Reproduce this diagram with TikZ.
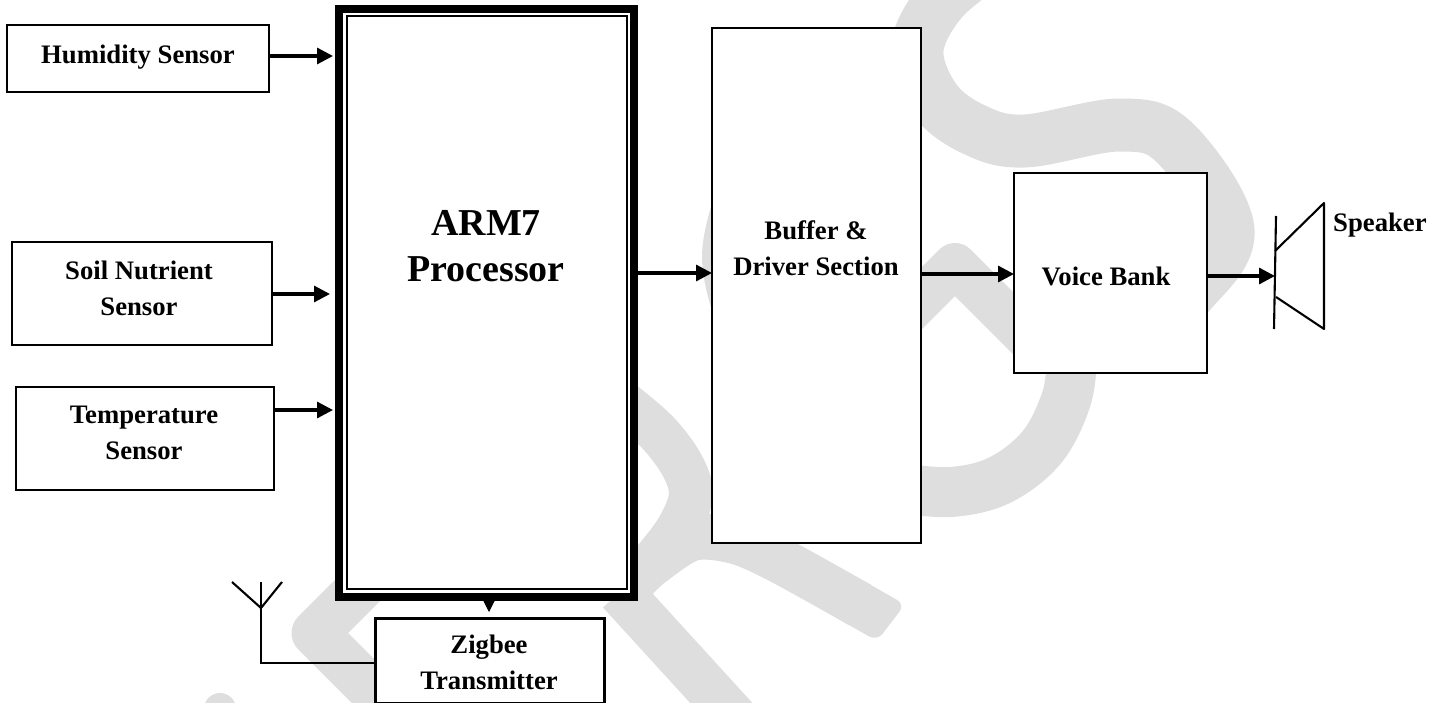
\documentclass[tikz,border=0pt]{standalone}
\usepackage{fontspec}
\setmainfont{Liberation Serif}
\usetikzlibrary{arrows.meta}
\definecolor{wm}{HTML}{DEDEDE}
\tikzset{
  box/.style={draw=black,fill=white,line width=2.7pt,inner sep=0pt,outer sep=0pt},
  txt/.style={font=\fontsize{26.7}{36}\selectfont\bfseries,align=center,inner sep=0pt},
  bigtxt/.style={font=\fontsize{38}{46}\selectfont\bfseries,align=center,inner sep=0pt},
  arr/.style={line width=3.2pt,-{Triangle[length=16pt,width=16pt]}},
  thin line/.style={line width=2.1pt,line join=miter},
  wmark/.style={draw=wm,line join=round,line cap=butt},
}
\begin{document}
\begin{tikzpicture}[x=1pt,y=-1pt]
\useasboundingbox (0,0) rectangle (1442,703);
% watermark
\begin{scope}
\clip (0,0) rectangle (1442,703);
\draw[wmark,line width=53pt] plot[smooth,tension=0.6] coordinates {(985,-35) (941,1) (917,50) (935,100) (975,130) (1025,141) (1120,125) (1175,143) (1228,230) (1188,295) (1130,350)};
\draw[wmark,line width=44pt] (880,340) -- (955,265) -- (1040,350);
\draw[wmark,line width=50pt] plot[smooth,tension=0.6] coordinates {(1072,360) (1066,400) (1042,447) (1000,480) (951,492) (900,488)};
\draw[wmark,line width=46pt] plot[smooth,tension=0.7] coordinates {(745,180) (725,257) (745,335)};
\draw[wmark,line width=44pt] plot[smooth,tension=0.6] coordinates {(600,385) (660,435) (690,485) (680,525) (650,565)};
\draw[wmark,line width=46pt] plot[smooth,tension=0.5] coordinates {(860,605) (779,560) (735,541) (692,538) (650,565) (630,585)};
\fill[wm,rounded corners=9pt] (905,604.5) -- (877,641) -- (835,617) -- (857,577) -- cycle;
\draw[wmark,line width=46pt] (620,592) -- (735,718);
\draw[wmark,line width=47pt] (400,548) -- (315,633) -- (400,718);
\fill[wm] (220,709) circle[radius=16pt];
\end{scope}
% boxes
\node[box,minimum width=262pt,minimum height=67pt] (hum) at (138,58.5) {};
\node[box,minimum width=260pt,minimum height=103pt] (soil) at (142,293.5) {};
\node[box,minimum width=258pt,minimum height=103pt] (temp) at (145,438.5) {};
\node[box,line width=8pt,outer sep=4pt,minimum width=295pt,minimum height=588pt] (proc) at (486.5,303) {};
\node[draw=black,line width=2.4pt,inner sep=0pt,minimum width=280pt,minimum height=573pt] (procin) at (487,302.5) {};
\node[box,minimum width=209pt,minimum height=515pt] (buf) at (816.5,285.5) {};
\node[box,minimum width=193pt,minimum height=200pt] (voice) at (1110.5,273) {};
\node[box,line width=3pt,minimum width=229pt,minimum height=85pt] (zig) at (489.5,660.5) {};
% labels
\node[txt] (thum) at (138,57) {Humidity Sensor};
\node[txt] (tsoil) at (139,288) {Soil Nutrient\\Sensor};
\node[txt] (ttemp) at (144,433) {Temperature\\Sensor};
\node[bigtxt] (tproc) at (486,246) {ARM7\\Processor};
\node[txt] (tbuf) at (816,248) {Buffer \&\\Driver Section};
\node[txt] (tvoice) at (1106,276) {Voice Bank};
\node[txt] (tzig) at (489,662) {Zigbee\\Transmitter};
\node[txt,anchor=west] (tspk) at (1333,225) {Speaker};
% arrows
\coordinate (a1) at (hum.east |- 0,56);
\coordinate (a2) at (soil.east |- 0,294);
\coordinate (a3) at (temp.east |- 0,410);
\draw[arr,shorten >=2pt] (a1) -- (a1 -| proc.west);
\draw[arr,shorten >=5pt] (a2) -- (a2 -| proc.west);
\draw[arr,shorten >=2pt] (a3) -- (a3 -| proc.west);
\coordinate (a4) at (proc.east |- 0,273);
\draw[arr] (a4) -- (a4 -| buf.west);
\coordinate (a5) at (buf.east |- 0,274);
\draw[arr] (a5) -- (a5 -| voice.west);
% speaker
\coordinate (sa) at (1276,216);
\coordinate (sb) at (1274,329);
\coordinate (sc) at (1275,251);
\coordinate (sd) at (1324,203);
\coordinate (se) at (1324,329);
\coordinate (sf) at (1276,297);
\draw[thin line] (sa) -- (sb);
\draw[thin line,line join=round] (sc) -- (sd) -- (se) -- (sf);
\coordinate (s0) at (1275,276);
\draw[arr] (voice.east |- s0) -- (s0);
% bottom tip
\coordinate (z0) at (489,612);
\draw[line width=1pt,-{Triangle[length=11pt,width=11pt]}] (z0 |- proc.south) -- (z0);
% antenna
\coordinate (ajun) at (261,608);
\coordinate (atop) at (261,582);
\coordinate (aleft) at (232,582);
\coordinate (aright) at (282,582);
\coordinate (acorn) at (261,663);
\draw[thin line] (atop) -- (ajun);
\draw[thin line] (aleft) -- (ajun) -- (aright);
\draw[thin line] (ajun) -- (acorn) -- (acorn -| zig.west);
\end{tikzpicture}
\end{document}
